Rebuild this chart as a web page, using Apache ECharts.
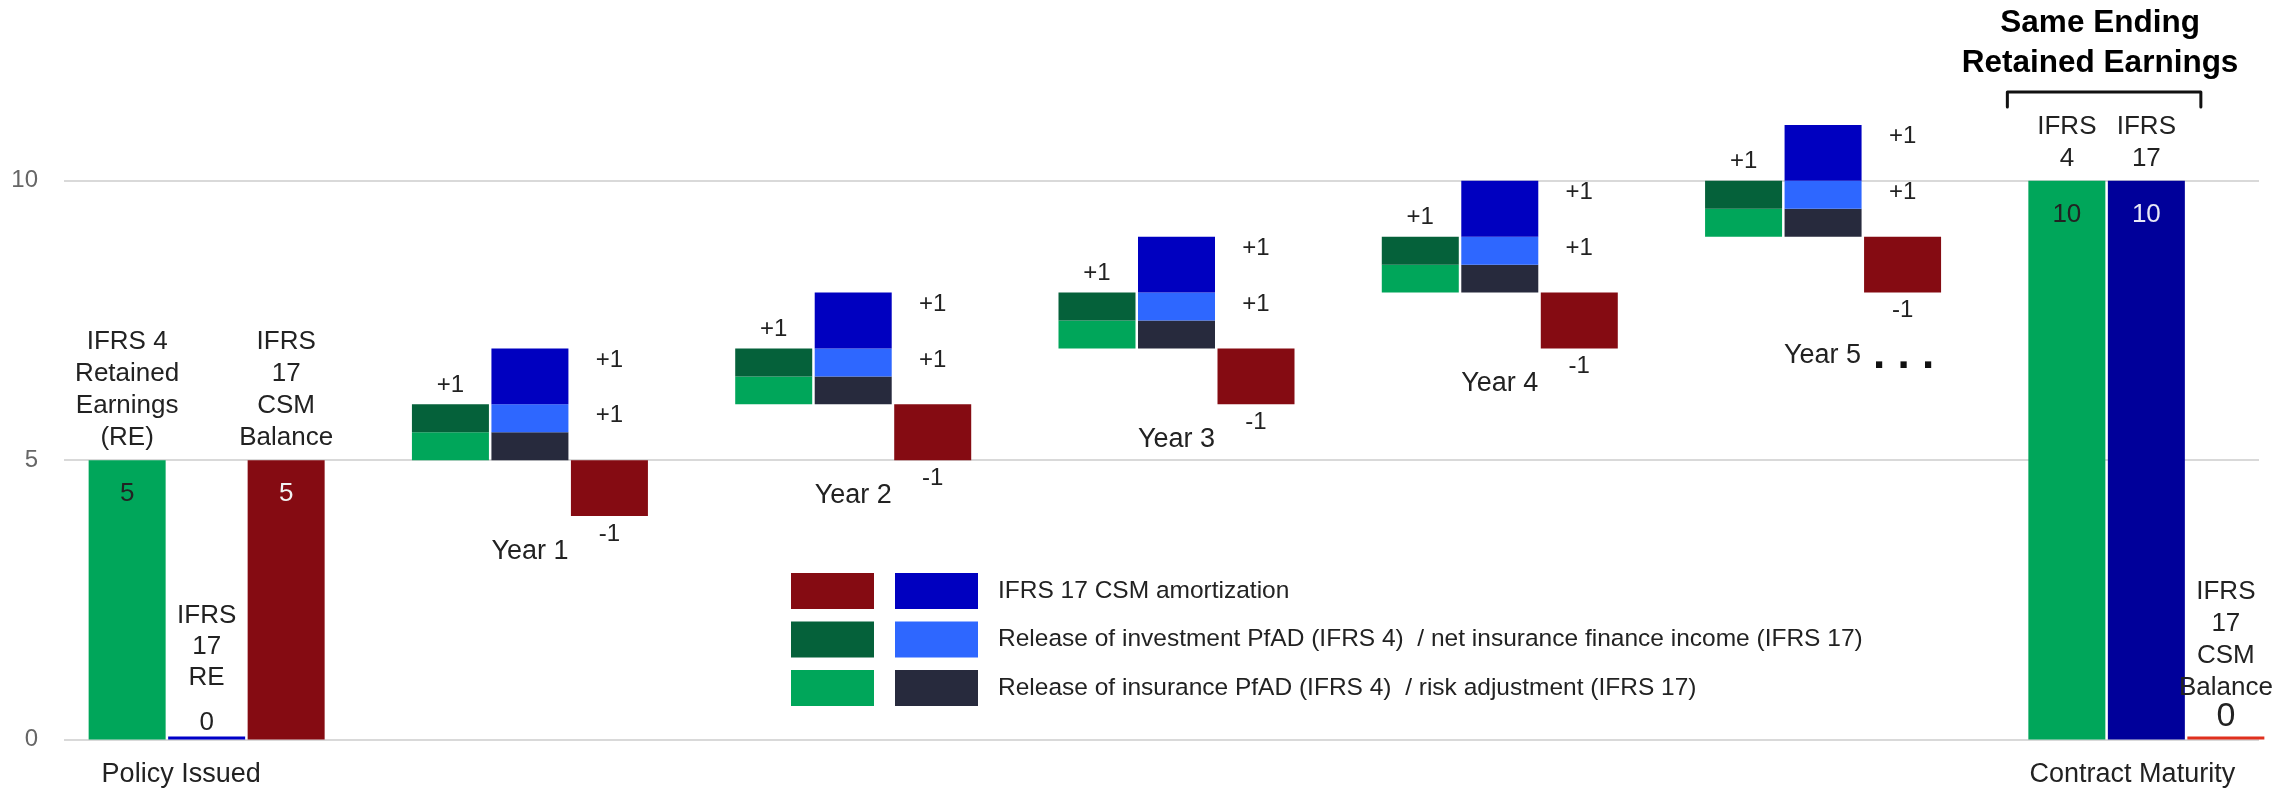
<!DOCTYPE html>
<html>
<head>
<meta charset="utf-8">
<script src="https://cdn.jsdelivr.net/npm/echarts@6/dist/echarts.min.js"></script>
<style>
html,body{margin:0;padding:0;background:#fff;}
#c{width:2295px;height:794px;}
</style>
</head>
<body>
<div id="c"></div>
<script>
// ---------------- DATA ----------------
const categories = ['Policy Issued', 'Year 1', 'Year 2', 'Year 3', 'Year 4', 'Year 5', 'Contract Maturity'];
const yTicks = [0, 5, 10];
// opening / closing balances
const ifrs4RE    = [5, null, null, null, null, null, 10];
const ifrs17RE   = [0, null, null, null, null, null, 10];
const csmBalance = [5, null, null, null, null, null, 0];
// yearly movements
const openingRE    = [null, 5, 6, 7, 8, 9, null];
const insPfAD      = [null, 0.5, 0.5, 0.5, 0.5, 0.5, null];
const invPfAD      = [null, 0.5, 0.5, 0.5, 0.5, 0.5, null];
const riskAdj      = [null, 0.5, 0.5, 0.5, 0.5, 0.5, null];
const netFinIncome = [null, 0.5, 0.5, 0.5, 0.5, 0.5, null];
const csmAmort     = [null, 1, 1, 1, 1, 1, null];
const csmRunoff    = [null, -1, -1, -1, -1, -1, null];
// bar name tags
const ifrs4Tags  = ['IFRS 4\nRetained\nEarnings\n(RE)', null, null, null, null, null, 'IFRS\n4'];
const ifrs17Tags = ['IFRS\n17\nRE', null, null, null, null, null, 'IFRS\n17'];
const csmTags    = ['IFRS\n17\nCSM\nBalance', null, null, null, null, null, 'IFRS\n17\nCSM\nBalance'];
const titleText = 'Same Ending\nRetained Earnings';
const legendLabels = [
  'IFRS 17 CSM amortization',
  'Release of investment PfAD (IFRS 4)  / net insurance finance income (IFRS 17)',
  'Release of insurance PfAD (IFRS 4)  / risk adjustment (IFRS 17)'
];

// ---------------- STYLE ----------------
const FONT = "'Liberation Sans', Arial, Helvetica, sans-serif";
const TXT = '#222222';
const COL = {
  green: '#00a65a', darkGreen: '#05613a',
  csmRed: '#850b12', csmZero: '#e0301e',
  amort: '#0000c0', nifi: '#2e67ff', ra: '#272a3d',
  re17Open: '#0000c8', re17Close: '#00009a'
};
const BW = 77, GAP = 2.5;
const legendSwatches = [[COL.csmRed, COL.amort], [COL.darkGreen, COL.nifi], [COL.green, COL.ra]];

const V = v => (v == null ? '-' : v);
const base = {
  type: 'bar', xAxisIndex: 1, yAxisIndex: 1,
  barWidth: BW, barGap: (GAP / BW * 100) + '%',
  emphasis: { disabled: true }, animation: false
};
const lbl = (o) => Object.assign({ show: true, color: TXT, fontFamily: FONT, fontSize: 26 }, o);

function balanceData(values, tags, colorFn, valueColor, zeroRich, zeroDist) {
  return values.map((v, i) => {
    if (v == null) return '-';
    const item = { value: v, itemStyle: { color: colorFn(i) } };
    if (v === 0) {
      item.label = lbl({
        position: 'top', distance: zeroDist,
        formatter: '{n|' + tags[i] + '}\n{v|' + v + '}',
        rich: zeroRich
      });
    } else {
      item.label = lbl({ position: 'insideTop', distance: 21, color: valueColor, formatter: String(v) });
    }
    return item;
  });
}
function tagSeries(stack, values, tags) {
  return Object.assign({}, base, {
    name: stack + ' tag', stack: stack, silent: true,
    itemStyle: { color: 'transparent' },
    data: values.map((v, i) => (tags[i] && v != null && v !== 0) ? 0 : '-'),
    label: lbl({ position: 'top', distance: 6, lineHeight: 32, formatter: p => tags[p.dataIndex] })
  });
}
const transparent = { color: 'rgba(0,0,0,0)' };
const rightLabelPos = [BW * 1.5 + GAP, 11.5];

const yearLabelData = openingRE.map((v, i) => {
  if (v == null) return '-';
  const item = { value: v + csmRunoff[i] };
  if (i === 5) {
    item.label = { formatter: '{y|' + categories[i] + '}{d|. . .}', offset: [-(BW + GAP) + 36, 19] };
  }
  return item;
});

const series = [
  // ---- left column: IFRS 4 ----
  Object.assign({}, base, { name: 'g base', stack: 'g', silent: true, itemStyle: transparent, data: openingRE.map(V) }),
  Object.assign({}, base, { name: 'IFRS 4 retained earnings', stack: 'g',
    data: balanceData(ifrs4RE, ifrs4Tags, () => COL.green, TXT, {}, 5) }),
  Object.assign({}, base, { name: 'Release of insurance PfAD', stack: 'g', itemStyle: { color: COL.green }, data: insPfAD.map(V) }),
  Object.assign({}, base, { name: 'Release of investment PfAD', stack: 'g', itemStyle: { color: COL.darkGreen }, data: invPfAD.map(V),
    label: lbl({ position: 'top', distance: 7, fontSize: 24, formatter: p => '+' + (insPfAD[p.dataIndex] + invPfAD[p.dataIndex]) }) }),
  tagSeries('g', ifrs4RE, ifrs4Tags),
  // ---- middle column: IFRS 17 ----
  Object.assign({}, base, { name: 'b base', stack: 'b', silent: true, itemStyle: transparent, data: openingRE.map(V) }),
  Object.assign({}, base, { name: 'IFRS 17 retained earnings', stack: 'b', barMinHeight: 3,
    data: balanceData(ifrs17RE, ifrs17Tags, i => (i === 0 ? COL.re17Open : COL.re17Close), '#e8e8f6',
      { n: { fontSize: 26, lineHeight: 31 }, v: { fontSize: 26, lineHeight: 42, verticalAlign: 'bottom' } }, 1) }),
  Object.assign({}, base, { name: 'Risk adjustment', stack: 'b', itemStyle: { color: COL.ra }, data: riskAdj.map(V) }),
  Object.assign({}, base, { name: 'Net insurance finance income', stack: 'b', itemStyle: { color: COL.nifi }, data: netFinIncome.map(V),
    label: lbl({ position: rightLabelPos, align: 'center', verticalAlign: 'middle', fontSize: 24,
      formatter: p => '+' + (riskAdj[p.dataIndex] + netFinIncome[p.dataIndex]) }) }),
  Object.assign({}, base, { name: 'IFRS 17 CSM amortization', stack: 'b', itemStyle: { color: COL.amort }, data: csmAmort.map(V),
    label: lbl({ position: rightLabelPos, align: 'center', verticalAlign: 'middle', fontSize: 24, formatter: p => '+' + p.value }) }),
  tagSeries('b', ifrs17RE, ifrs17Tags),
  // ---- right column: CSM ----
  Object.assign({}, base, { name: 'r base', stack: 'r', silent: true, itemStyle: transparent, data: yearLabelData,
    label: lbl({ position: 'insideTop', distance: 22, fontSize: 27, offset: [-(BW + GAP), 0],
      formatter: p => categories[p.dataIndex],
      rich: { y: { fontSize: 27, fontFamily: FONT, color: TXT }, d: { fontSize: 44, fontWeight: 'bold', color: '#111', fontFamily: FONT, padding: [0, 0, 0, 12] } } }) }),
  Object.assign({}, base, { name: 'IFRS 17 CSM balance', stack: 'r', barMinHeight: 3,
    data: balanceData(csmBalance, csmTags, i => (i === 0 ? COL.csmRed : COL.csmZero), '#f2f2f2',
      { n: { fontSize: 26, lineHeight: 32 }, v: { fontSize: 34, lineHeight: 26 } }, 7) }),
  Object.assign({}, base, { name: 'CSM release', stack: 'r', itemStyle: { color: COL.csmRed }, data: csmRunoff.map(v => V(v == null ? null : -v)),
    label: lbl({ position: 'bottom', distance: 6, fontSize: 24, formatter: p => String(csmRunoff[p.dataIndex]) }) }),
  tagSeries('r', csmBalance, csmTags)
];

const GRID_BOTTOM = 54.4;
const option = {
  animation: false,
  backgroundColor: '#ffffff',
  textStyle: { fontFamily: FONT },
  grid: [
    { left: 64, right: 36, top: 180.6, bottom: GRID_BOTTOM, outerBoundsMode: 'none', containLabel: false },
    { left: 45, width: 2263, top: 69.1, bottom: GRID_BOTTOM, outerBoundsMode: 'none', containLabel: false }
  ],
  xAxis: [
    { type: 'value', gridIndex: 0, show: false },
    { type: 'category', gridIndex: 1, data: categories,
      axisLine: { show: false }, axisTick: { show: false },
      axisLabel: { interval: 0, margin: 21, fontSize: 27, color: TXT, fontFamily: FONT,
        formatter: (v, i) => i === 0 ? '{a|' + v + '}' : (i === categories.length - 1 ? '{b|' + v + '}' : ''),
        rich: { a: { fontSize: 27, color: TXT, fontFamily: FONT, padding: [0, 51, 0, 0] },
                b: { fontSize: 27, color: TXT, fontFamily: FONT, padding: [0, 28, 0, 0] } } } }
  ],
  yAxis: [
    { type: 'value', gridIndex: 0, min: yTicks[0], max: yTicks[yTicks.length - 1], interval: yTicks[1] - yTicks[0],
      axisLine: { show: false }, axisTick: { show: false },
      axisLabel: { fontSize: 24, color: '#666666', margin: 26, fontFamily: FONT },
      splitLine: { lineStyle: { color: '#d9d9d9', width: 2 } } },
    { type: 'value', gridIndex: 1, min: 0, max: 12, show: false, splitLine: { show: false } }
  ],
  series: series
};

const chart = echarts.init(document.getElementById('c'));
chart.setOption(option);

// annotations: bracket + title + legend
const cm = chart.convertToPixel({ xAxisIndex: 1, yAxisIndex: 1 }, [categories.length - 1, 10]);
const x1 = cm[0] - 1.5 * BW - GAP - 21;
const x2 = cm[0] + 0.5 * BW + 16;
const graphics = [
  { type: 'polyline', shape: { points: [[x1, 107], [x1, 92], [x2, 92], [x2, 107]] },
    style: { stroke: '#111', lineWidth: 3, fill: null, lineJoin: 'round', lineCap: 'round' } },
  { type: 'text', x: (x1 + x2) / 2 - 4, y: 3,
    style: { text: titleText, fontSize: 31.5, fontWeight: 'bold', fontFamily: FONT, fill: '#000', align: 'center', verticalAlign: 'top', lineHeight: 40 } }
];
legendLabels.forEach((t, r) => {
  const y = 573 + r * 48.5;
  graphics.push({ type: 'rect', shape: { x: 791, y: y, width: 83, height: 36 }, style: { fill: legendSwatches[r][0] } });
  graphics.push({ type: 'rect', shape: { x: 895, y: y, width: 83, height: 36 }, style: { fill: legendSwatches[r][1] } });
  graphics.push({ type: 'text', x: 998, y: y + 18,
    style: { text: t, fontSize: 24.5, fontFamily: FONT, fill: TXT, verticalAlign: 'middle', align: 'left' } });
});
chart.setOption({ graphic: graphics });
</script>
</body>
</html>
